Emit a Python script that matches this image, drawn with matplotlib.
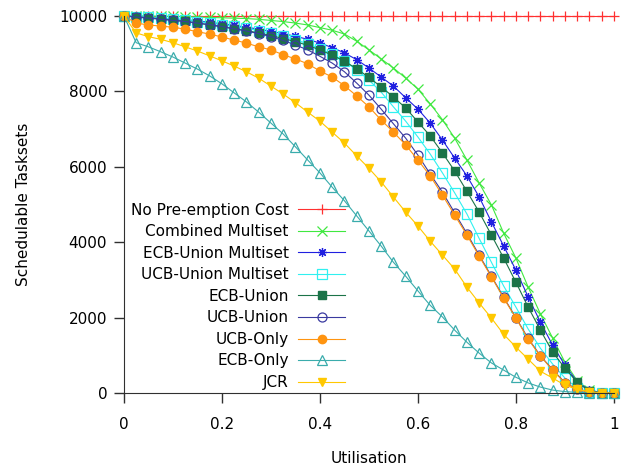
import numpy as np
import matplotlib.pyplot as plt

# Utilisation points (step 0.025)
utilisation = np.linspace(0, 1, 41)

no_preemption = [10000] * 41
combined_multiset = [10000, 10000, 10000, 9990, 9990, 9980, 9970, 9960, 9950, 9940, 9930,
                     9910, 9880, 9850, 9810, 9760, 9690, 9620, 9520, 9330, 9100,
                     8860, 8620, 8350, 8060, 7670, 7250, 6760, 6180, 5570, 4990,
                     4240, 3580, 2810, 2100, 1460, 820, 330, 80, 10, 0]
ecb_union_multiset = [10000, 9980, 9960, 9940, 9920, 9900, 9870, 9830, 9790, 9750, 9700,
                      9650, 9590, 9530, 9460, 9380, 9280, 9160, 9020, 8840, 8620,
                      8380, 8140, 7830, 7530, 7160, 6710, 6230, 5760, 5200, 4540,
                      3900, 3260, 2550, 1880, 1270, 740, 300, 80, 10, 0]
ucb_union_multiset = [10000, 9980, 9960, 9940, 9920, 9890, 9850, 9810, 9770, 9720, 9670,
                      9610, 9540, 9460, 9370, 9260, 9130, 8980, 8800, 8570, 8300,
                      7980, 7590, 7210, 6790, 6340, 5840, 5310, 4750, 4100, 3470,
                      2840, 2280, 1700, 1190, 770, 400, 130, 30, 0, 0]
ecb_union = [10000, 9970, 9950, 9920, 9890, 9860, 9810, 9760, 9710, 9660, 9610,
             9550, 9480, 9400, 9320, 9220, 9100, 8960, 8800, 8600, 8370,
             8120, 7850, 7560, 7190, 6820, 6370, 5890, 5350, 4800, 4190,
             3580, 2940, 2280, 1670, 1090, 660, 290, 50, 10, 0]
ucb_union = [10000, 9970, 9940, 9910, 9880, 9850, 9810, 9770, 9720, 9660, 9600,
             9530, 9450, 9350, 9230, 9100, 8930, 8750, 8520, 8220, 7900,
             7530, 7140, 6760, 6310, 5810, 5330, 4780, 4230, 3660, 3100,
             2540, 2000, 1450, 990, 620, 280, 100, 20, 0, 0]
ucb_only = [10000, 9810, 9760, 9730, 9700, 9650, 9580, 9520, 9440, 9360, 9280,
            9180, 9100, 8970, 8860, 8730, 8540, 8380, 8150, 7880, 7590,
            7240, 6920, 6580, 6180, 5760, 5250, 4720, 4190, 3630, 3080,
            2520, 1990, 1430, 980, 610, 270, 100, 20, 0, 0]
ecb_only = [10000, 9290, 9180, 9050, 8910, 8750, 8590, 8410, 8200, 7960, 7720,
            7450, 7160, 6870, 6530, 6180, 5840, 5460, 5100, 4700, 4300,
            3900, 3470, 3100, 2710, 2330, 2020, 1670, 1350, 1060, 800,
            610, 420, 270, 160, 80, 40, 20, 10, 0, 0]
jcr = [10000, 9550, 9450, 9380, 9290, 9180, 9070, 8940, 8810, 8670, 8520,
       8350, 8140, 7930, 7700, 7450, 7210, 6920, 6630, 6290, 5960,
       5600, 5200, 4800, 4430, 4030, 3660, 3290, 2810, 2390, 1990,
       1560, 1220, 900, 580, 400, 210, 100, 40, 10, 0]

series = [
    ("No Pre-emption Cost", no_preemption, "#ff3030", "+", True),
    ("Combined Multiset", combined_multiset, "#40e840", "x", True),
    ("ECB-Union Multiset", ecb_union_multiset, "#2020e0", (8, 2, 0), True),
    ("UCB-Union Multiset", ucb_union_multiset, "#30f0f0", "s", False),
    ("ECB-Union", ecb_union, "#1b7348", "s", True),
    ("UCB-Union", ucb_union, "#3a3aa0", "o", False),
    ("UCB-Only", ucb_only, "#ff9410", "o", True),
    ("ECB-Only", ecb_only, "#3aacac", "^", False),
    ("JCR", jcr, "#ffc800", "v", True),
]

plt.rcParams['font.family'] = ['DejaVu Sans']
fig = plt.figure(figsize=(6.29, 4.68), dpi=100)
ax = fig.add_axes([0.197, 0.160, 0.779, 0.806])

for label, values, color, marker, filled in series:
    if marker in ("+", "x") or isinstance(marker, tuple):
        ax.plot(utilisation, values, color=color, lw=0.8, marker=marker, ms=6.5,
                mew=0.9, label=label, clip_on=False)
    elif filled:
        ax.plot(utilisation, values, color=color, lw=0.8, marker=marker, ms=6,
                mfc=color, mec=color, label=label, clip_on=False)
    else:
        ax.plot(utilisation, values, color=color, lw=0.8, marker=marker, ms=6.5,
                mfc='none', mec=color, mew=0.9, label=label, clip_on=False)

ax.set_xlim(0, 1)
ax.set_ylim(0, 10000)
ax.set_xticks([0, 0.2, 0.4, 0.6, 0.8, 1])
ax.set_xticklabels(['0', '0.2', '0.4', '0.6', '0.8', '1'])
ax.set_yticks([0, 2000, 4000, 6000, 8000, 10000])
ax.tick_params(direction='out', length=7, width=1, labelsize=11, color='#303030')
ax.tick_params(axis='x', pad=10)
ax.tick_params(axis='y', pad=5)
ax.spines['top'].set_visible(False)
ax.spines['right'].set_visible(False)
ax.spines['left'].set_color('#303030')
ax.spines['bottom'].set_color('#303030')
ax.set_xlabel('Utilisation', fontsize=11, labelpad=14)
ax.set_ylabel('Schedulable Tasksets', fontsize=11, labelpad=20)

ax.legend(loc='lower right', bbox_to_anchor=(0.458, 0.0), markerfirst=False,
          frameon=False, fontsize=11, handlelength=3.1, labelspacing=0.43,
          borderaxespad=0, borderpad=0.2, handletextpad=0.6)

fig.savefig('out.png', dpi=100)
